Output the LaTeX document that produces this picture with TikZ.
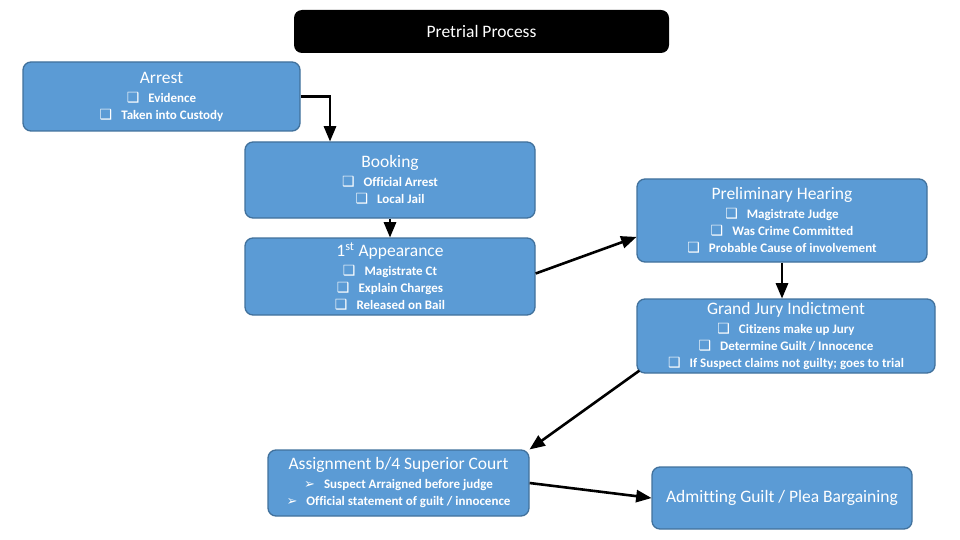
\documentclass[tikz,border=0pt]{standalone}
\usepackage{fontspec}
\setmainfont{Carlito}[Ligatures=NoCommon]
\newfontfamily\symfont{DejaVu Sans}
\usetikzlibrary{arrows}

\definecolor{boxblue}{HTML}{5B9BD5}
\definecolor{boxedge}{HTML}{41719C}
\newcommand{\qb}{{\symfont\fontsize{14}{11.5}\selectfont ❑}\hspace{9pt}}
\newcommand{\ab}{{\symfont\fontsize{13}{11.5}\selectfont ➢}\hspace{9pt}}
\newcommand{\ttl}[1]{{\mdseries\fontsize{17.5}{17}\selectfont #1}}

\tikzset{
    stage/.style={draw=boxedge, line width=1.3pt, fill=boxblue, rounded corners=8pt,
        text=white, align=center, inner sep=0pt,
        font=\fontsize{13}{17}\selectfont\bfseries},
    flow/.style={-triangle 45, line width=2.6pt}
}

\begin{document}
\begin{tikzpicture}[x=1pt, y=-1pt]
\useasboundingbox (0,0) rectangle (960,540);

\node[fill=black, rounded corners=8pt, text=white, minimum width=375, minimum height=43,
    font=\fontsize{17.5}{17}\selectfont] (title) at (481.5,31.5) {Pretrial Process};

\node[stage, minimum width=277, minimum height=69] (arrest) at (161.5,96.5)
    {\ttl{Arrest}\\[2pt] \qb Evidence\\ \qb Taken into Custody};
\node[stage, minimum width=290, minimum height=76] (booking) at (390,180)
    {\ttl{Booking}\\[2pt] \qb Official Arrest\\ \qb Local Jail};
\node[stage, minimum width=290, minimum height=77] (first) at (390,276.5)
    {\ttl{1\textsuperscript{st} Appearance}\\[2pt] \qb Magistrate Ct\\ \qb Explain Charges\\ \qb Released on Bail};
\node[stage, minimum width=290, minimum height=83] (prelim) at (782,220.5)
    {\ttl{Preliminary Hearing}\\[2pt] \qb Magistrate Judge\\ \qb Was Crime Committed\\ \qb Probable Cause of involvement};
\node[stage, minimum width=298, minimum height=74] (grand) at (786,336)
    {\ttl{Grand Jury Indictment}\\[2pt] \qb Citizens make up Jury\\ \qb Determine Guilt / Innocence\\ \qb If Suspect claims not guilty; goes to trial};
\node[stage, minimum width=261, minimum height=66] (assign) at (398.5,483)
    {\ttl{Assignment b/4 Superior Court}\\[2pt] \ab Suspect Arraigned before judge\\ \ab Official statement of guilt / innocence};
\node[stage, minimum width=260, minimum height=62] (admit) at (782,498)
    {\ttl{Admitting Guilt / Plea Bargaining}};

%% connectors
\draw[flow] (arrest.east) -| ([xshift=-60pt]booking.north);
\draw[flow] (booking.south) -- (first.north);
\draw[flow] ([yshift=3pt]first.east) -- ([yshift=-16.5pt]prelim.west);
\draw[flow] (prelim.south) -- (prelim.south |- grand.north);
\draw[flow] ([shift={(3pt,3pt)}]grand.south west) -- (assign.north east);
\draw[flow] (assign.east) -- (admit.west);

\end{tikzpicture}
\end{document}
